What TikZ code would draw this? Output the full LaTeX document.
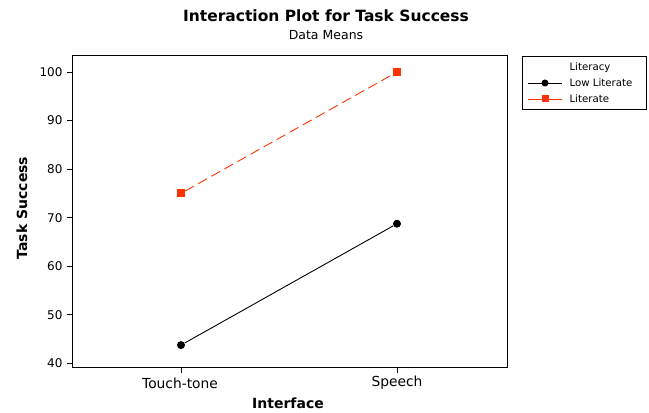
\documentclass[tikz,border=0pt]{standalone}
\usepackage{fontspec}
\setmainfont{DejaVu Sans}
\usetikzlibrary{positioning}
\definecolor{litred}{RGB}{255,51,0}
\tikzset{
  lowmark/.style={circle,fill=black,inner sep=0pt,minimum size=8pt},
  litmark/.style={rectangle,fill=litred,inner sep=0pt,minimum size=8pt},
  ticklabel/.style={font=\fontsize{12}{14}\selectfont},
  axislabel/.style={font=\bfseries\fontsize{14}{16}\selectfont},
  legendtext/.style={font=\fontsize{10.2}{12}\selectfont,anchor=west},
}
\begin{document}
\begin{tikzpicture}[x=1pt,y=1pt]
  \useasboundingbox (0,0) rectangle (649,413);
  \node[font=\bfseries\fontsize{15.5}{18}\selectfont] (title) at (326,397) {Interaction Plot for Task Success};
  \node[font=\fontsize{12.5}{14}\selectfont] (subtitle) at (326,378) {Data Means};

  % plot frame and ticks
  \draw[line width=1pt] (72,45.3) rectangle (507,357.5);
  \begin{scope}[y=4.855pt,yshift=-144.5pt]
    \foreach \v in {40,50,...,100} {
      \coordinate (yt\v) at (72,\v);
      \draw[line width=0.8pt] (yt\v) -- ++(-5pt,0);
      \node[ticklabel,anchor=east] (yl\v) at (66,\v) {\v};
    }
    \node[lowmark] (low1) at (181,43.75) {};
    \node[lowmark] (low2) at (397,68.75) {};
    \node[litmark] (lit1) at (181,75) {};
    \node[litmark] (lit2) at (397,100) {};
    \draw[line width=0.9pt] (low1) -- (low2);
    \draw[litred,line width=0.9pt,dash pattern=on 10pt off 5pt] (lit1) -- (lit2);
  \end{scope}
  \coordinate (xt1) at (181,45.3);
  \coordinate (xt2) at (397,45.3);
  \draw[line width=0.8pt] (xt1) -- ++(0,-5pt);
  \draw[line width=0.8pt] (xt2) -- ++(0,-5pt);
  \node[ticklabel,font=\fontsize{13.8}{16}\selectfont] (xl1) at (180,30) {Touch-tone};
  \node[ticklabel,font=\fontsize{13.8}{16}\selectfont] (xl2) at (397,30) {Speech};
  \node[axislabel] (xlabel) at (288,10) {Interface};
  \node[axislabel,rotate=90] (ylabel) at (22,205) {Task Success};

  % legend
  \draw[line width=0.8pt] (522,304) rectangle (646,357);
  \node[legendtext] (legtitle) at (566,345) {Literacy};
  \coordinate (lowa) at (528,330);
  \coordinate (lowb) at (562,330);
  \draw[line width=0.8pt] (lowa) -- (lowb);
  \node[lowmark,minimum size=7pt] (lowkey) at (545,330) {};
  \node[legendtext] (lowtext) at (566,330) {Low Literate};
  \coordinate (lita) at (528,314);
  \coordinate (litb) at (562,314);
  \draw[litred,line width=0.8pt] (lita) -- (litb);
  \node[litmark,minimum size=7pt] (litkey) at (545,314) {};
  \node[legendtext] (littext) at (566,314) {Literate};
\end{tikzpicture}
\end{document}
